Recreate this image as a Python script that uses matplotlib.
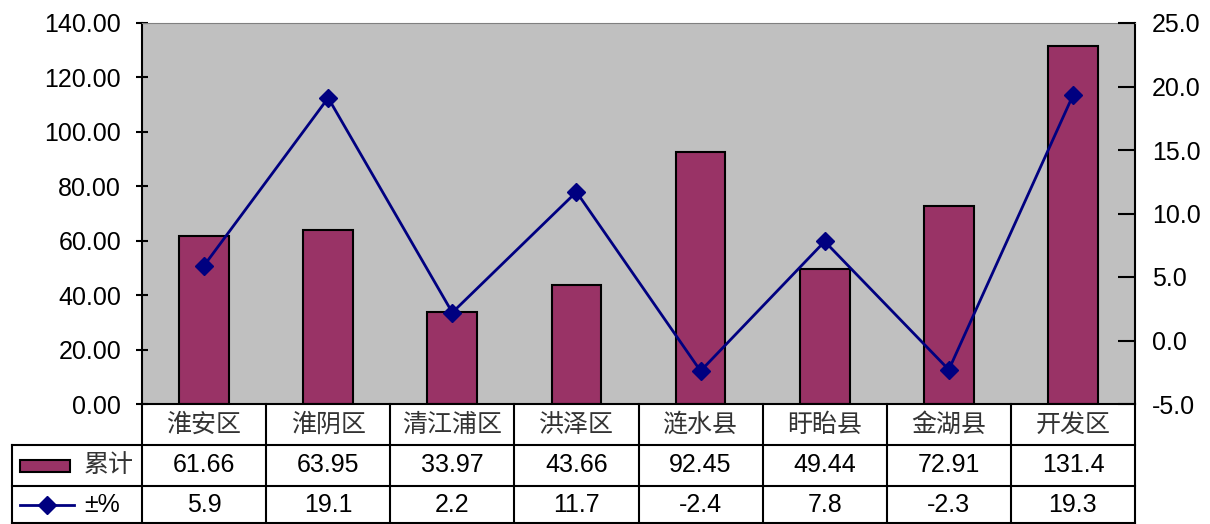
import numpy as np
import matplotlib.pyplot as plt
from matplotlib.lines import Line2D
from matplotlib.patches import Rectangle

plt.rcParams['font.family'] = ['Liberation Sans', 'Noto Sans CJK SC', 'DejaVu Sans']

categories = ['淮安区', '淮阴区', '清江浦区', '洪泽区', '涟水县', '盱眙县', '金湖县', '开发区']
totals = [61.66, 63.95, 33.97, 43.66, 92.45, 49.44, 72.91, 131.4]
pct = [5.9, 19.1, 2.2, 11.7, -2.4, 7.8, -2.3, 19.3]
total_labels = ['61.66', '63.95', '33.97', '43.66', '92.45', '49.44', '72.91', '131.4']
pct_labels = ['5.9', '19.1', '2.2', '11.7', '-2.4', '7.8', '-2.3', '19.3']

bar_color = '#993366'
line_color = '#000080'
fs = 18

W, H = 1210, 524
fig = plt.figure(figsize=(W / 100, H / 100), dpi=100)

left, right, top, bottom = 142, 1135, 23, 404
ax = fig.add_axes([left / W, 1 - bottom / H, (right - left) / W, (bottom - top) / H])
ax.set_facecolor('#C0C0C0')

x = np.arange(len(categories))
ax.bar(x, totals, width=0.4, color=bar_color, edgecolor='black', linewidth=1.5, zorder=2)
ax.set_xlim(-0.5, len(categories) - 0.5)
ax.set_ylim(0, 140)
ax.set_yticks(np.arange(0, 141, 20))
ax.set_yticklabels(['%.2f' % v for v in np.arange(0, 141, 20)], fontsize=fs)
ax.set_xticks([])
ax.tick_params(axis='y', direction='inout', length=8, width=1.5, pad=11)
for s in ['left', 'right']:
    ax.spines[s].set_linewidth(1.5)
ax.spines['top'].set_color('#808080')
ax.spines['bottom'].set_linewidth(1.5)

ax2 = ax.twinx()
ax2.plot(x, pct, color=line_color, lw=2, marker='D', markersize=9, zorder=3)
ax2.set_ylim(-5, 25)
ax2.set_yticks(np.arange(-5, 26, 5))
ax2.set_yticklabels(['%.1f' % v for v in np.arange(-5, 26, 5)], fontsize=fs)
ax2.tick_params(axis='y', direction='in', length=12, width=1.5, pad=12)
for s in ax2.spines.values():
    s.set_visible(False)

# data table below the plot
def fx(px):
    return px / W

def fy(py):
    return 1 - py / H

rows = [404, 445, 486, 524]
col_w = (right - left) / len(categories)
lw = 1.5
tleft = 12

def hline(x0, x1, y):
    fig.add_artist(Line2D([fx(x0), fx(x1)], [fy(y), fy(y)], color='black', lw=lw))

def vline(xp, y0, y1):
    fig.add_artist(Line2D([fx(xp), fx(xp)], [fy(y0), fy(y1)], color='black', lw=lw))

hline(tleft, right, rows[1])
hline(tleft, right, rows[2])
hline(tleft, right, rows[3] - 1)
for i in range(len(categories) + 1):
    vline(left + i * col_w, rows[0], rows[3])
vline(tleft, rows[1], rows[3])

for i in range(len(categories)):
    cx = left + (i + 0.5) * col_w
    fig.text(fx(cx), fy((rows[0] + rows[1]) / 2), categories[i], ha='center', va='center',
             fontsize=fs, color='#333333')
    fig.text(fx(cx), fy((rows[1] + rows[2]) / 2), total_labels[i], ha='center', va='center',
             fontsize=fs)
    fig.text(fx(cx), fy((rows[2] + rows[3]) / 2), pct_labels[i], ha='center', va='center',
             fontsize=fs)

# legend keys in the table
ym = (rows[1] + rows[2]) / 2
fig.add_artist(Rectangle((fx(20), fy(ym + 6)), fx(50), 12 / H, facecolor=bar_color,
                         edgecolor='black', lw=1.5))
fig.text(fx(84), fy(ym), '累计', ha='left', va='center', fontsize=fs, color='#333333')
ym = (rows[2] + rows[3]) / 2
fig.add_artist(Line2D([fx(20), fx(74)], [fy(ym), fy(ym)], color=line_color, lw=2))
fig.add_artist(Line2D([fx(47)], [fy(ym)], color=line_color, marker='D', markersize=9))
fig.text(fx(84), fy(ym), '±%', ha='left', va='center', fontsize=fs)

fig.savefig('out.png', dpi=100)
